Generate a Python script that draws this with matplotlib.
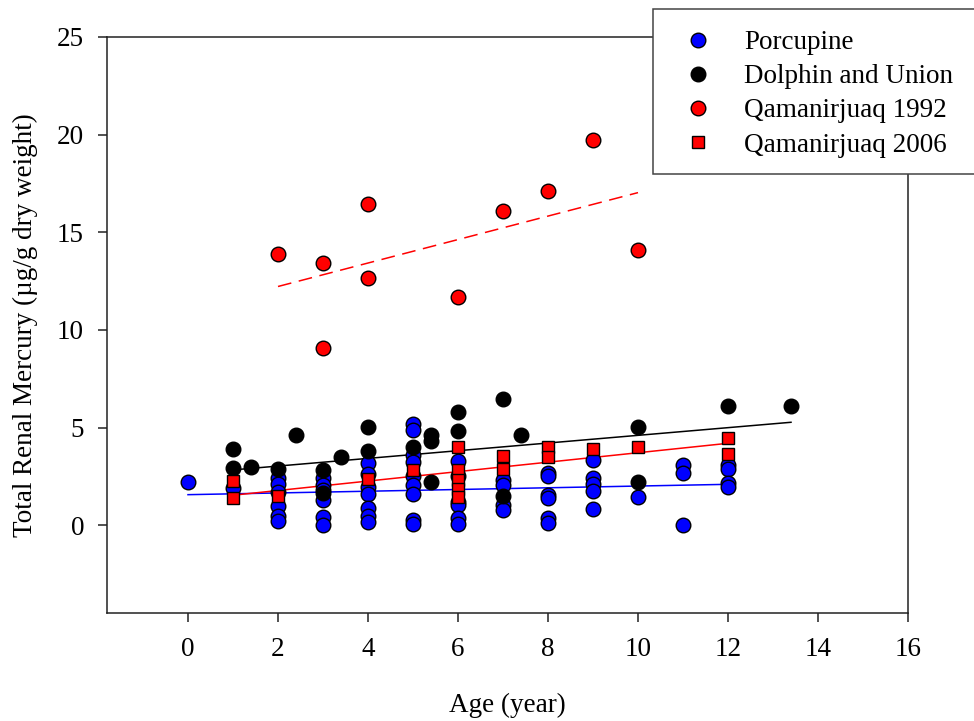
import matplotlib
matplotlib.use("Agg")
import matplotlib.pyplot as plt
from matplotlib.patches import Rectangle
from matplotlib.lines import Line2D
import numpy as np

plt.rcParams['font.family'] = ['Liberation Serif', 'DejaVu Serif']
plt.rcParams['mathtext.fontset'] = 'stix'

# ---- data ----
porc_age = [0,
            1,
            2, 2, 2, 2, 2, 2,
            3, 3, 3, 3, 3, 3,
            4, 4, 4, 4, 4, 4, 4,
            5, 5, 5, 5, 5, 5, 5, 5, 5,
            6, 6, 6, 6, 6, 6,
            7, 7, 7, 7,
            8, 8, 8, 8, 8, 8,
            9, 9, 9, 9, 9,
            10,
            11, 11, 11,
            12, 12, 12, 12]
porc_hg = [2.2,
           1.9,
           2.4, 2.1, 1.7, 1.0, 0.45, 0.2,
           2.4, 2.05, 1.3, 1.8, 0.4, 0.03,
           3.2, 2.6, 1.95, 1.6, 0.9, 0.45, 0.17,
           5.2, 4.85, 3.6, 3.25, 2.5, 2.05, 1.6, 0.25, 0.05,
           3.3, 2.5, 1.2, 1.05, 0.35, 0.05,
           2.3, 2.05, 1.05, 0.8,
           2.65, 2.5, 1.55, 1.4, 0.35, 0.1,
           3.35, 2.4, 2.1, 1.75, 0.85,
           1.45,
           3.1, 2.65, 0.03,
           3.1, 2.85, 2.15, 1.95]

dolph_age = [1, 1, 1.4, 2, 2.4, 3, 3, 3.4, 4, 4, 5, 5.4, 5.4, 5.4,
             6, 6, 7, 7, 7.4, 10, 10, 12, 13.4]
dolph_hg = [3.9, 2.95, 3.0, 2.85, 4.6, 2.8, 1.65, 3.5, 5.05, 3.8, 4.0, 4.6, 4.3, 2.2,
            5.8, 4.8, 6.45, 1.5, 4.6, 5.05, 2.2, 6.1, 6.1]

q92_age = [2, 3, 3, 4, 4, 6, 7, 8, 9, 10]
q92_hg = [13.88, 13.45, 9.06, 16.44, 12.65, 11.68, 16.07, 17.09, 19.74, 14.07]

q06_age = [1, 1, 2, 4, 5, 6, 6, 6, 6, 6, 7, 7, 8, 8, 9, 10, 12, 12]
q06_hg = [2.25, 1.4, 1.5, 2.35, 2.8, 4.0, 2.8, 2.3, 1.85, 1.45, 3.55, 2.9,
          4.0, 3.5, 3.9, 4.0, 4.45, 3.65]

# regression lines: (intercept, slope, x start, x end)
porc_fit = (1.56, 0.0442, 0, 12)
dolph_fit = (2.632, 0.1967, 1, 13.4)
q92_fit = (11.02, 0.601, 2, 10)
q06_fit = (1.29, 0.2418, 1, 12)

series_labels = ["Porcupine", "Dolphin and Union", "Qamanirjuaq 1992", "Qamanirjuaq 2006"]
x_ticks = [0, 2, 4, 6, 8, 10, 12, 14, 16]
y_ticks = [0, 5, 10, 15, 20, 25]

# ---- figure ----
W, H = 974, 721
fig = plt.figure(figsize=(W / 100, H / 100), dpi=100)
ax = fig.add_axes([107 / W, 1 - 613 / H, (908 - 107) / W, (613 - 37) / H])

fs = 19.5
ms = 10.5
mew = 1.0

def fit_line(fit, **kw):
    b, m, x0, x1 = fit
    xs = np.array([x0, x1])
    ax.plot(xs, b + m * xs, **kw)

fit_line(porc_fit, color='#0000ff', lw=1.1, zorder=2)
fit_line(dolph_fit, color='black', lw=1.1, zorder=2)
fit_line(q06_fit, color='#ff0000', lw=1.1, zorder=2)
fit_line(q92_fit, color='#ff0000', lw=1.1, ls=(0, (9, 5)), zorder=2)

ax.plot(porc_age, porc_hg, 'o', ms=ms, mfc='#0000ff', mec='black', mew=mew, ls='none', zorder=3)
ax.plot(dolph_age, dolph_hg, 'o', ms=ms, mfc='black', mec='black', mew=mew, ls='none', zorder=3)
ax.plot(q92_age, q92_hg, 'o', ms=ms, mfc='#ff0000', mec='black', mew=mew, ls='none', zorder=3)
ax.plot(q06_age, q06_hg, 's', ms=ms - 1.2, mfc='#ff0000', mec='black', mew=mew, ls='none', zorder=4)

ax.set_xlim(-1.8, 16)
ax.set_ylim(-4.5, 25)
ax.set_xticks(x_ticks)
ax.set_yticks(y_ticks)
ax.tick_params(axis='both', direction='out', length=6.5, width=1.1, labelsize=fs,
               top=False, right=False, colors='#222222', labelcolor='black')
ax.tick_params(axis='x', pad=11)
ax.tick_params(axis='y', pad=10)
for s in ax.spines.values():
    s.set_linewidth(1.1)
    s.set_color('#222222')

ax.set_xlabel("Age (year)", fontsize=fs, labelpad=22)
ax.set_ylabel("Total Renal Mercury (µg/g dry weight)", fontsize=fs, labelpad=14)

# legend
handles = [
    Line2D([], [], marker='o', ls='none', ms=ms, mfc='#0000ff', mec='black', mew=mew),
    Line2D([], [], marker='o', ls='none', ms=ms, mfc='black', mec='black', mew=mew),
    Line2D([], [], marker='o', ls='none', ms=ms, mfc='#ff0000', mec='black', mew=mew),
    Line2D([], [], marker='s', ls='none', ms=ms - 1.2, mfc='#ff0000', mec='black', mew=mew),
]
leg = fig.legend(handles, series_labels, loc='upper left',
                 bbox_to_anchor=(686 / W, 1 - 30 / H), frameon=False,
                 fontsize=fs, handlelength=0.87, handletextpad=1.28,
                 labelspacing=0.34, borderpad=0, borderaxespad=0)
fig.patches.append(Rectangle((653 / W, 1 - 174 / H), (990 - 653) / W, (174 - 9) / H,
                             transform=fig.transFigure, fill=True, facecolor='white',
                             edgecolor='#444444', lw=1.1, zorder=5))
leg.set_zorder(6)

fig.savefig("out.png", dpi=100)
